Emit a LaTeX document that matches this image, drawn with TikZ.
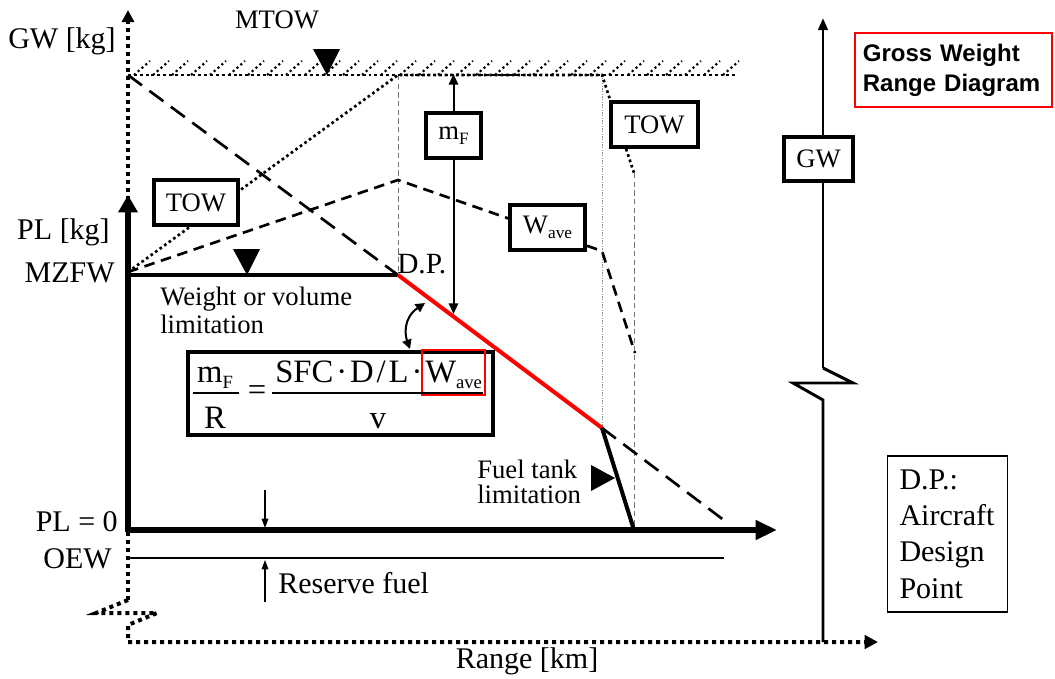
\documentclass[tikz,border=0pt]{standalone}
\usepackage{fontspec}
\setmainfont{Liberation Serif}
\newfontfamily\titlefont{Liberation Sans}
\usetikzlibrary{arrows.meta}
\newcommand{\lowsub}[2][13]{\raisebox{-0.4ex}{\fontsize{#1}{#1}\selectfont #2}}
\newcommand{\eqsp}{\hspace{2.2pt}}
\begin{document}
\begin{tikzpicture}[x=0.75pt,y=-0.75pt,
  txt/.style={inner sep=0pt, font=\fontsize{22.5}{27}\selectfont},
  stxt/.style={inner sep=0pt, font=\fontsize{20}{20}\selectfont},
  eqt/.style={inner sep=0pt, font=\fontsize{24.5}{24}\selectfont},
  lblbox/.style={draw, line width=3pt, fill=white, inner sep=0pt, font=\fontsize{20}{24}\selectfont},
  dotax/.style={line width=3pt, dash pattern=on 3pt off 3pt},
  dotfine/.style={line width=2pt, dash pattern=on 2pt off 2.2pt},
  hatchdot/.style={line width=1.6pt, dash pattern=on 1.6pt off 2.2pt},
  longdash/.style={line width=2pt, dash pattern=on 13pt off 7pt},
  middash/.style={line width=2pt, dash pattern=on 8pt off 5pt},
  guide/.style={line width=0.6pt, black!55, dash pattern=on 4pt off 2.5pt},
  guidedot/.style={line width=0.6pt, black!45, dash pattern=on 1pt off 1pt},
]
\useasboundingbox (0,0) rectangle (1055,678);

% ---- coordinates
\coordinate (O) at (128,530);
\coordinate (PLtop) at (128,195);
\coordinate (Xtip) at (777,530);
\coordinate (MZ) at (128,275);
\coordinate (MZt) at (128,272);
\coordinate (DP) at (398,275);
\coordinate (FT) at (602,428);
\coordinate (FTb) at (634,530);
\coordinate (LDend) at (725,521);
\coordinate (TL) at (128,75);
\coordinate (MTend) at (737,75);
\coordinate (WP) at (398,180);
\coordinate (WQ) at (602,251);
\coordinate (WR) at (635,353);
\coordinate (TA) at (398,75);
\coordinate (TB) at (602,75);
\coordinate (TC) at (634,173);
\coordinate (GWbrk) at (128,600);
\coordinate (GWtip) at (128,10);
\coordinate (Rtip) at (878,642);
\coordinate (OEWa) at (128,558);
\coordinate (OEWb) at (724,558);
\coordinate (RGtop) at (823,368);
\coordinate (RGtip) at (823,18);
\coordinate (RGbot) at (823,642);

% ---- guide lines
\draw[guide] (TA) -- (DP);
\draw[guidedot] (TB) -- (FT);
\draw[guide] (TC) -- (FTb);

% ---- dotted GW axis with break and dotted range axis
\draw[dotax, -{Triangle[width=9pt,length=9pt]}] (GWbrk) -- (GWtip);
\draw[dotax, -{Triangle[width=10pt,length=10pt]}] (GWbrk) -- (96,613) -- (157,613) -- (128,625) -- (128,642) -- (Rtip);

% ---- MTOW hatched line
\foreach \x in {134,153,...,725} \draw[hatchdot] (\x,75) -- ++(16,-14);
\draw[line width=2.2pt, dash pattern=on 2.2pt off 2.2pt] (TL) -- (MTend);

% ---- long dashed line
\draw[longdash] (TL) -- (DP);
\draw[longdash] (FT) -- (LDend);

% ---- TOW dotted line
\draw[dotfine] (MZt) -- (TA) -- (TB) -- (TC);

% ---- Wave dashed line
\draw[middash] (MZt) -- (WP) -- (WQ) -- (WR);

% ---- solid GW axis with break
\draw[line width=2.2pt, -{Triangle[width=7pt,length=9pt]}] (RGtop) -- (RGtip);
\draw[line width=2.2pt] (RGbot) -- (823,400) -- (793,383) -- (853,383) -- (RGtop);

% ---- payload-range lines
\draw[line width=3pt] (MZ) -- (DP);
\draw[line width=3pt, red] (DP) -- (FT);
\draw[line width=3pt] (FT) -- (FTb);
\draw[line width=2.2pt] (OEWa) -- (OEWb);

% ---- axes
\draw[line width=3.8pt, -{Triangle[width=14pt,length=13pt]}] (128,532) -- (PLtop);
\draw[line width=4pt, -{Triangle[width=14pt,length=16pt]}] (O) -- (Xtip);

% ---- reserve fuel arrows
\coordinate (rfa) at (265,490);
\coordinate (rfb) at (265,528);
\coordinate (rfc) at (265,602);
\coordinate (rfd) at (265,560);
\draw[line width=0.8pt, -{Triangle[width=5pt,length=7pt]}] (rfa) -- (rfb);
\draw[line width=0.8pt, -{Triangle[width=5pt,length=7pt]}] (rfc) -- (rfd);

% ---- boxes
\node[lblbox, minimum width=63pt, minimum height=34pt] (towL) at (196,202.5) {TOW};
\node[lblbox, minimum width=41pt, minimum height=34pt] (mF) at (453.5,135.5) {m\lowsub{F}};
\node[lblbox, minimum width=65pt, minimum height=34pt] (towR) at (654.5,124.5) {TOW};
\node[lblbox, minimum width=56pt, minimum height=34pt] (wave) at (547.5,227.5) {W\lowsub{ave}};
\node[lblbox, minimum width=52pt, minimum height=33pt] (gw) at (818.5,159) {GW};

% ---- m_F arrows
\coordinate (mFtop) at (453.5,74);
\coordinate (mFbot) at (453.5,314);
\draw[line width=1.5pt, -{Triangle[width=7pt,length=8pt]}] (mF.north) -- (mFtop);
\draw[line width=1.5pt, -{Triangle[width=7pt,length=8pt]}] (mF.south) -- (mFbot);

% ---- triangles
\fill (313,49) -- (340,49) -- (327,75) -- cycle;
\fill (233,249) -- (260,249) -- (247,275) -- cycle;
\fill (591,465) -- (591,491) -- (615,478) -- cycle;

% ---- equation box
\node[draw, line width=3pt, fill=white, inner sep=0pt, minimum width=229pt, minimum height=62pt] (eqbox) at (340.5,393.5) {};
\node[eqt, anchor=base] (mfnum) at (215,382) {m\lowsub[14]{F}};
\node[eqt, anchor=base] (rden) at (215,428) {R};
\draw[line width=1.2pt] (193,393) -- (239,393);
\node[eqt] (eqsign) at (257,393) {=};
\node[eqt, anchor=base west] (num) at (275,382) {SFC\eqsp·\eqsp D\eqsp/\eqsp L\eqsp·};
\node[eqt, anchor=base west] (wnum) at (425,382) {W\lowsub[14]{ave}};
\draw[red, line width=1.5pt] (422,350) rectangle (485,395);
\draw[line width=1.2pt] (272,393) -- (483,393);
\node[eqt, anchor=base] (vden) at (378,428) {v};

% ---- curved double arrow
\coordinate (ca1) at (425,303);
\coordinate (ca2) at (410,349);
\draw[line width=1.5pt, {Triangle[width=7pt,length=7pt]}-{Triangle[width=7pt,length=7pt]}] (ca1) .. controls (403,318) and (405,335) .. (ca2);

% ---- labels
\node[txt, anchor=base east] (gwlab) at (116,48) {GW [kg]};
\node[stxt, anchor=base] (mtowlab) at (277,28) {MTOW};
\node[txt, anchor=base east] (pllab) at (110,239) {PL [kg]};
\node[txt, anchor=base east] (mzfwlab) at (115,282) {MZFW};
\node[inner sep=0pt, font=\fontsize{22}{22}\selectfont, anchor=base west] (dplab) at (397,273) {D.P.};
\node[stxt, anchor=base west] (wv1) at (160,305) {Weight or volume};
\node[stxt, anchor=base west] (wv2) at (160,333) {limitation};
\node[stxt, anchor=base west] (ft1) at (477,478) {Fuel tank};
\node[stxt, anchor=base west] (ft2) at (477,503) {limitation};
\node[txt, anchor=base east] (pl0) at (118,531) {PL = 0};
\node[txt, anchor=base east] (oew) at (112,568) {OEW};
\node[txt, anchor=base west] (rf) at (278,593) {Reserve fuel};
\node[txt, anchor=base] (rng) at (527,668) {Range [km]};

% ---- title and legend boxes
\node[draw=red, line width=1.5pt, inner xsep=6pt, inner ysep=0pt, text width=136pt, minimum height=56pt, align=left, font=\titlefont\bfseries\fontsize{18}{22.5}\selectfont] (title) at (953.5,70) {\hyphenpenalty=10000 Gross Weight\\Range Diagram};
\node[draw, line width=0.8pt, inner xsep=9pt, inner ysep=0pt, text width=72pt, minimum height=117pt, align=left, font=\fontsize{22.5}{27.2}\selectfont] (dpbox) at (947.5,534) {D.P.:\\Aircraft\\Design\\Point};
\end{tikzpicture}
\end{document}
